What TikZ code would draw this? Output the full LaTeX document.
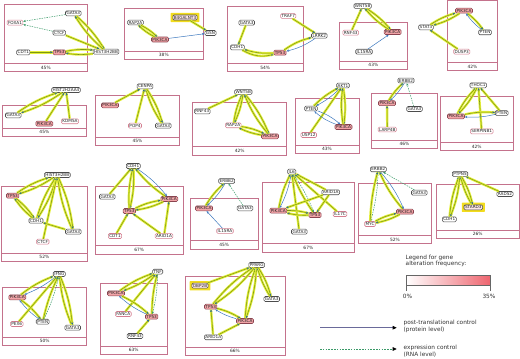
\documentclass[tikz,border=0pt]{standalone}
\usepackage{fontspec}
\setmainfont{DejaVu Sans}
\usetikzlibrary{arrows.meta,backgrounds}
\definecolor{boxc}{HTML}{C4728C}
\definecolor{pkb}{HTML}{D47E90}
\definecolor{pkf}{HTML}{F2A4A8}
\definecolor{hib}{HTML}{8A4450}
\definecolor{hlc}{HTML}{F2DC1E}
\definecolor{hlf}{HTML}{FBE6E6}
\definecolor{glow}{HTML}{E4EE3A}
\definecolor{olv}{HTML}{7C9812}
\definecolor{blu}{HTML}{3C78BE}
\definecolor{dgr}{HTML}{3A9A68}
\definecolor{tipc}{HTML}{2C6A90}
\definecolor{legl}{HTML}{6A6A9A}
\definecolor{gradr}{HTML}{EE6670}
\newcommand\pnl[6]{%
  \draw[boxs] (#1,#2) rectangle (#3,#4);
  \draw[boxs] (#1,#4-8.5) -- (#3,#4-8.5);
  \node[pct] (#6) at ({(#1+#3)/2},#4-4.25) {#5\%};}
\newcommand\dbl[2]{%
  \draw[ye] (#1) to[bend left=8] (#2);
  \draw[ye] (#2) to[bend left=8] (#1);}
\newcommand\hlbox[1]{%
  \begin{scope}[on background layer]
  \fill[hlc,rounded corners=0.6pt] ([xshift=-1.9pt,yshift=-1.9pt]#1.south west) rectangle ([xshift=1.9pt,yshift=1.9pt]#1.north east);
  \end{scope}}
\begin{document}
\begin{tikzpicture}[x=1pt,y=-1pt,
  boxs/.style={draw=boxc, line width=0.6pt},
  pct/.style={font=\fontsize{4.4}{5}\selectfont, text=black!85, inner sep=0pt},
  gn/.style={rounded corners=1.3pt, line width=0.55pt, inner xsep=1pt, inner ysep=0.9pt, font=\fontsize{4.2}{5}\selectfont, fill=white, text=black!85},
  dk/.style={gn, draw=black!70},
  pk/.style={gn, draw=pkb},
  hi/.style={gn, draw=hib, fill=pkf},
  hl/.style={gn, draw=black!70, fill=hlf},
  ye/.style={draw=olv, line width=0.55pt, preaction={draw=glow, line width=2.4pt, arrows=-}, -{Stealth[length=2.6pt,width=2.2pt,color=tipc]}},
  bl/.style={draw=blu, line width=0.5pt, -{Stealth[length=2.6pt,width=2.2pt]}},
  dg/.style={draw=dgr, line width=0.5pt, dash pattern=on 1.5pt off 1pt, -{Stealth[length=2.6pt,width=2.2pt]}},
  legt/.style={font=\fontsize{5.8}{6.8}\selectfont, text=black!80, align=left, inner sep=0pt}
]
\useasboundingbox (0,0) rectangle (520,359);
% ---------- panels ----------
\pnl{4.3}{4}{87.3}{71.7}{45}{pc1}
\pnl{124.3}{8.3}{203.3}{59.3}{38}{pc2}
\pnl{227}{6.7}{303.3}{71.7}{54}{pc3}
\pnl{339}{22.3}{407.7}{69.3}{43}{pc4}
\pnl{447.3}{0.7}{497.7}{70.7}{42}{pc5}
\pnl{2.7}{105.3}{86}{136.3}{45}{pc6}
\pnl{95.7}{95.7}{179.3}{145.3}{45}{pc7}
\pnl{192.7}{102}{286.7}{155}{42}{pc8}
\pnl{295}{98.3}{359}{153.3}{43}{pc9}
\pnl{371.7}{93.3}{437.3}{148.3}{46}{pc10}
\pnl{440}{96.3}{513.3}{150.7}{42}{pc11}
\pnl{1}{186.7}{87.7}{261.5}{52}{pc12}
\pnl{95}{186.7}{183.3}{253.8}{67}{pc13}
\pnl{190}{198.3}{258.3}{248.8}{45}{pc14}
\pnl{262.7}{182.3}{354}{252}{67}{pc15}
\pnl{358.3}{183.3}{431.7}{243.7}{52}{pc16}
\pnl{436}{184.3}{519.3}{238.5}{26}{pc17}
\pnl{2.7}{287.3}{86.7}{345.5}{50}{pc18}
\pnl{100}{283.3}{167.3}{354.5}{63}{pc19}
\pnl{185}{276}{285}{355.5}{66}{pc20}
% ---------- nodes ----------
% P1
\node[pk] (a_fox) at (15,22.7) {FOXA1};
\node[dk] (a_gat) at (73.3,13.3) {GATA3};
\node[dk] (a_ctc) at (59.3,32.7) {CTCF};
\node[dk] (a_cdt) at (23.3,52.3) {CDT1};
\node[hi] (a_tp) at (59.3,52.3) {TP53};
\node[dk] (a_his) at (106,51.7) {HIST3H2BB};
% P2
\node[dk] (b_rap) at (135.5,22.5) {RAP2A};
\node[hl] (b_b4) at (185,17.5) {B4GALNT3};
\node[hi] (b_pik) at (160,39.5) {PIK3CA};
\node[dk] (b_gsn) at (210.5,33) {GSN};
% P3
\node[dk] (c_gat) at (246.7,22.7) {GATA3};
\node[dk] (c_cdh) at (237.3,47.3) {CDH1};
\node[pk] (c_trf) at (288.3,16) {TRAF7};
\node[dk] (c_lrk) at (319.3,35.7) {LRRK2};
\node[hi] (c_tp) at (280,52.7) {TP53};
% P4
\node[dk] (d_wnt) at (362.7,6) {WNT5B};
\node[pk] (d_rnf) at (350.7,32.7) {RNF43};
\node[hi] (d_pik) at (392.7,32) {PIK3CA};
\node[dk] (d_il) at (364,51.7) {IL15RA};
% P5
\node[hi] (e_pik) at (464,10.7) {PIK3CA};
\node[dk] (e_sta) at (426,27.3) {STAT3};
\node[dk] (e_pte) at (485,32.3) {PTEN};
\node[pk] (e_dus) at (461.7,51.7) {DUSP3};
% P6
\node[dk] (f_his) at (66,90) {HIST2H2AA4};
\node[dk] (f_gat) at (13.3,115.3) {GATA3};
\node[hi] (f_pik) at (44.3,123.7) {PIK3CA};
\node[pk] (f_kdm) at (70,121.3) {KDM5A};
% P7
\node[dk] (g_cen) at (145,86.3) {CENPA};
\node[hi] (g_pik) at (110,105.3) {PIK3CA};
\node[pk] (g_pop) at (135,125.7) {POP4};
\node[dk] (g_gat) at (163.3,125.7) {GATA3};
% P8
\node[dk] (h_wnt) at (243.3,92) {WNT5B};
\node[dk] (h_rnf) at (202.3,111.3) {RNF43};
\node[pk] (h_rap) at (233.3,125.3) {RAP2A};
\node[hi] (h_pik) at (270,136.3) {PIK3CA};
% P9
\node[dk] (i_akt) at (343,85.5) {AKT1};
\node[dk] (i_pte) at (311,108.5) {PTEN};
\node[pk] (i_usp) at (308.7,135) {USP12};
\node[hi] (i_pik) at (343.5,127) {PIK3CA};
% P10
\node[dk] (j_erb) at (406,80.5) {ERBB2};
\node[hi] (j_pik) at (387,103.2) {PIK3CA};
\node[dk] (j_gat) at (414.5,109) {GATA3};
\node[pk] (j_lar) at (387.3,129.5) {LARP4B};
% P11
\node[dk] (k_tho) at (478.3,85.3) {THOC1};
\node[hi] (k_pik) at (456,116.3) {PIK3CA};
\node[dk] (k_pte) at (501.7,113) {PTEN};
\node[pk] (k_ser) at (481.7,131.3) {SERPINB1};
% P12
\node[dk] (l_his) at (57.3,175) {HIST3H2BB};
\node[hi] (l_tp) at (12.7,195.7) {TP53};
\node[dk] (l_cdh) at (36,220.7) {CDH1};
\node[pk] (l_ctc) at (42.7,241.7) {CTCF};
\node[dk] (l_gat) at (73.3,231.7) {GATA3};
% P13
\node[dk] (m_cdh) at (133.3,166) {CDH1};
\node[dk] (m_gat) at (107.3,196.7) {GATA3};
\node[hi] (m_pik) at (169.3,199) {PIK3CA};
\node[hi] (m_tp) at (129.3,211) {TP53};
\node[pk] (m_cdt) at (115,236) {CDT1};
\node[pk] (m_ari) at (164,236) {ARID1A};
% P14
\node[dk] (n_erb) at (226.7,181) {ERBB2};
\node[hi] (n_pik) at (204,208.3) {PIK3CA};
\node[dk] (n_gat) at (245,208.3) {GATA3};
\node[pk] (n_il) at (225,231) {IL15RA};
% P15
\node[dk] (o_il6) at (291.7,171.7) {IL6};
\node[dk] (o_ari) at (330.7,192.3) {ARID1A};
\node[hi] (o_pik) at (278.3,210.7) {PIK3CA};
\node[hi] (o_tp) at (315,215) {TP53};
\node[pk] (o_il17) at (340,214) {IL17C};
\node[dk] (o_gat) at (299.3,231.7) {GATA3};
% P16
\node[dk] (q_erb) at (378.3,169.3) {ERBB2};
\node[dk] (q_gat) at (419.3,192.7) {GATA3};
\node[hi] (q_pik) at (405,211.7) {PIK3CA};
\node[pk] (q_myc) at (370,224) {MYC};
% P17
\node[dk] (r_ptp) at (460,174) {PTPN5};
\node[dk] (r_rad) at (505,194) {RAD52};
\node[hl] (r_sta) at (473.3,207.3) {STARD3};
\node[dk] (r_cdh) at (449.3,219.3) {CDH1};
% P18
\node[dk] (s_ifn) at (59.3,274) {IFNG};
\node[hi] (s_pik) at (17.3,297.3) {PIK3CA};
\node[pk] (s_pex) at (16.7,324) {PEX6};
\node[dk] (s_pte) at (42.7,321.7) {PTEN};
\node[dk] (s_gat) at (72.7,327.7) {GATA3};
% P19
\node[dk] (t_tnf) at (157.7,271.7) {TNF};
\node[hi] (t_pik) at (116,293.3) {PIK3CA};
\node[pk] (t_fan) at (123.3,314) {FANCA};
\node[hi] (t_tp) at (151.7,316.7) {TP53};
\node[dk] (t_rnf) at (135,336) {RNF43};
% P20
\node[dk] (u_ppa) at (256.7,265) {PPARG};
\node[hl] (u_obp) at (200,285.7) {OBP2B};
\node[hi] (u_tp) at (210.7,306.7) {TP53};
\node[hi] (u_pik) at (245,321) {PIK3CA};
\node[dk] (u_ari) at (213.3,337.3) {ARID1A};
\node[dk] (u_gat) at (271.7,299) {GATA3};
% highlights
\hlbox{b_b4}
\hlbox{r_sta}
\hlbox{u_obp}
% ---------- edges ----------
% P1
\draw[dg] (a_gat) -- (a_fox);
\draw[dg] (a_ctc) -- (a_fox);
\dbl{a_gat}{a_his}
\draw[ye] (a_ctc) -- (a_his);
\draw[ye] (a_cdt) -- (a_tp);
\dbl{a_tp}{a_his}
% P2
\dbl{b_rap}{b_pik}
\draw[ye] (b_b4) -- (b_gsn);
\draw[bl] (b_pik) -- (b_gsn);
% P3
\draw[ye] (c_gat) -- (c_cdh);
\draw[ye] (c_cdh) to[bend right=22] (c_tp);
\draw[ye] (c_tp) to[bend left=10] (c_cdh);
\draw[ye] (c_trf) -- (c_lrk);
\draw[ye] (c_tp) to[bend left=10] (c_lrk);
\draw[bl] (c_lrk) to[bend left=10] (c_tp);
% P4
\draw[ye] (d_rnf) -- (d_wnt);
\dbl{d_wnt}{d_pik}
\draw[bl] (d_il) -- (d_pik);
% P5
\dbl{e_sta}{e_pik}
\draw[ye] (e_pik) to[bend left=8] (e_pte);
\draw[bl] (e_pte) to[bend left=8] (e_pik);
\draw[ye] (e_dus) -- (e_sta);
% P6
\dbl{f_gat}{f_his}
\draw[ye] (f_pik) -- (f_his);
\draw[ye] (f_kdm) -- (f_his);
% P7
\draw[ye] (g_pik) -- (g_cen);
\draw[ye] (g_pop) -- (g_cen);
\dbl{g_gat}{g_cen}
% P8
\draw[ye] (h_rnf) -- (h_wnt);
\dbl{h_rap}{h_wnt}
\dbl{h_wnt}{h_pik}
\dbl{h_rap}{h_pik}
% P9
\draw[ye] (i_pte) to[bend left=8] (i_akt);
\draw[bl] (i_akt) to[bend left=8] (i_pte);
\draw[ye] (i_usp) -- (i_akt);
\dbl{i_akt}{i_pik}
\draw[bl] (i_pte) to[bend left=10] (i_pik);
\draw[bl] (i_pik) to[bend left=10] (i_pte);
% P10
\draw[ye] (j_pik) to[bend left=8] (j_erb);
\draw[bl] (j_erb) to[bend left=8] (j_pik);
\draw[dg] (j_gat) -- (j_erb);
\draw[ye] (j_lar) -- (j_pik);
% P11
\dbl{k_pik}{k_tho}
\draw[ye] (k_pte) -- (k_tho);
\draw[ye] (k_ser) -- (k_tho);
\draw[ye] (k_pik) to[bend left=8] (k_pte);
\draw[bl] (k_pte) to[bend left=8] (k_pik);
% P12
\dbl{l_tp}{l_his}
\dbl{l_tp}{l_cdh}
\dbl{l_cdh}{l_his}
\draw[ye] (l_ctc) -- (l_his);
\dbl{l_gat}{l_his}
\draw[ye] (l_gat) -- (l_cdh);
% P13
\draw[ye] (m_gat) -- (m_cdh);
\dbl{m_cdh}{m_tp}
\draw[ye] (m_pik) to[bend left=8] (m_cdh);
\draw[bl] (m_cdh) to[bend left=8] (m_pik);
\dbl{m_tp}{m_pik}
\draw[ye] (m_cdt) -- (m_tp);
\draw[ye] (m_ari) -- (m_tp);
\draw[ye] (m_ari) -- (m_pik);
% P14
\draw[ye] (n_pik) to[bend left=8] (n_erb);
\draw[bl] (n_erb) to[bend left=8] (n_pik);
\draw[dg] (n_gat) -- (n_erb);
\draw[bl] (n_il) -- (n_pik);
% P15
\draw[ye] (o_pik) to[bend left=8] (o_il6);
\draw[bl] (o_il6) to[bend left=8] (o_pik);
\draw[ye] (o_tp) to[bend left=6] (o_il6);
\draw[dg] (o_il6) to[bend left=6] (o_tp);
\draw[ye] (o_ari) -- (o_il6);
\draw[ye] (o_il17) -- (o_il6);
\draw[ye] (o_gat) -- (o_il6);
\draw[ye] (o_ari) -- (o_pik);
\draw[ye] (o_ari) -- (o_tp);
\dbl{o_pik}{o_tp}
% P16
\draw[dg] (q_erb) to[bend left=6] (q_myc);
\draw[ye] (q_myc) to[bend left=6] (q_erb);
\draw[dg] (q_gat) -- (q_erb);
\draw[ye] (q_pik) to[bend left=8] (q_erb);
\draw[bl] (q_erb) to[bend left=8] (q_pik);
\dbl{q_myc}{q_pik}
% P17
\dbl{r_cdh}{r_ptp}
\dbl{r_sta}{r_ptp}
\draw[ye] (r_rad) -- (r_ptp);
% P18
\draw[ye] (s_pik) to[bend left=8] (s_ifn);
\draw[bl] (s_ifn) to[bend left=8] (s_pik);
\draw[ye] (s_pik) to[bend left=8] (s_pte);
\draw[bl] (s_pte) to[bend left=8] (s_pik);
\draw[ye] (s_pex) -- (s_ifn);
\draw[ye] (s_pte) to[bend left=6] (s_ifn);
\draw[dg] (s_pte) to[bend right=6] (s_ifn);
\dbl{s_gat}{s_ifn}
% P19
\dbl{t_pik}{t_tnf}
\draw[ye] (t_fan) -- (t_tnf);
\draw[ye] (t_tp) to[bend left=6] (t_tnf);
\draw[dg] (t_tnf) to[bend left=6] (t_tp);
\draw[ye] (t_pik) to[bend left=8] (t_tp);
\draw[bl] (t_tp) to[bend left=8] (t_pik);
\draw[ye] (t_rnf) -- (t_tp);
% P20
\draw[ye] (u_obp) -- (u_ppa);
\dbl{u_tp}{u_ppa}
\dbl{u_pik}{u_ppa}
\dbl{u_gat}{u_ppa}
\draw[ye] (u_tp) to[bend left=8] (u_pik);
\draw[bl] (u_pik) to[bend left=8] (u_tp);
\draw[ye] (u_ari) -- (u_tp);
\draw[ye] (u_ari) -- (u_pik);
% ---------- legend ----------
\node[legt, anchor=north west] (lg) at (405.5,254.5) {Legend for gene\\alteration frequency:};
\shade[left color=white, right color=gradr] (406,275) rectangle (490,285);
\draw[black!60, line width=0.5pt] (406,275) rectangle (490,285);
\draw[black!60, line width=0.5pt] (406,285) -- (406,290.5) (490,285) -- (490,290.5);
\node[legt] (l0) at (407.5,296.5) {0\%};
\node[legt] (l35) at (489,296.5) {35\%};
\coordinate (pa1) at (320,327.7);
\coordinate (pa2) at (396.7,327.7);
\draw[legl, line width=0.9pt, -{Triangle[length=4pt,width=3.6pt,color=black]}] (pa1) -- (pa2);
\node[legt, anchor=west] (lpt) at (403.5,326) {post-translational control\\(protein level)};
\coordinate (ea1) at (320,349);
\coordinate (ea2) at (396.7,349);
\draw[dgr, line width=0.6pt, dash pattern=on 1.6pt off 1.2pt, -{Triangle[length=4pt,width=3.6pt,color=black]}] (ea1) -- (ea2);
\node[legt, anchor=west] (lex) at (403.5,351) {expression control\\(RNA level)};
\end{tikzpicture}
\end{document}
